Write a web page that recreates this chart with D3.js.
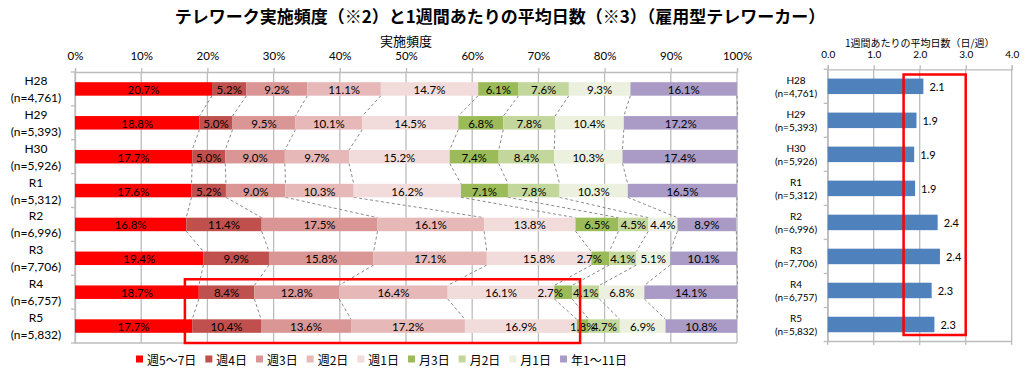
<!DOCTYPE html>
<html>
<head>
<meta charset="utf-8">
<script src="https://cdn.jsdelivr.net/npm/d3@7"></script>
<style>
  body { margin: 0; background: #fff; }
  svg text { font-family: "Lato", "Noto Sans CJK JP", sans-serif; fill: #000; }
  .jp { font-family: "Noto Sans CJK JP", sans-serif; }
</style>
</head>
<body>
<svg width="1024" height="372"></svg>
<script>
// categories (two-line labels)
var years = ["H28", "H29", "H30", "R1", "R2", "R3", "R4", "R5"];
var sizes = ["(n=4,761)", "(n=5,393)", "(n=5,926)", "(n=5,312)", "(n=6,996)", "(n=7,706)", "(n=6,757)", "(n=5,832)"];

var freqNames = ["週5〜7日", "週4日", "週3日", "週2日", "週1日", "月3日", "月2日", "月1日", "年1〜11日"];
var freqColors = ["#ff0000", "#c0504d", "#d99694", "#e6b9b8", "#f2dcdb", "#9bbb59", "#c3d69b", "#ebf1de", "#a99bc6"];

// share of each frequency, one array per year (%)
var h28 = [20.7, 5.2, 9.2, 11.1, 14.7, 6.1, 7.6, 9.3, 16.1];
var h29 = [18.8, 5.0, 9.5, 10.1, 14.5, 6.8, 7.8, 10.4, 17.2];
var h30 = [17.7, 5.0, 9.0, 9.7, 15.2, 7.4, 8.4, 10.3, 17.4];
var r1  = [17.6, 5.2, 9.0, 10.3, 16.2, 7.1, 7.8, 10.3, 16.5];
var r2  = [16.8, 11.4, 17.5, 16.1, 13.8, 6.5, 4.5, 4.4, 8.9];
var r3  = [19.4, 9.9, 15.8, 17.1, 15.8, 2.7, 4.1, 5.1, 10.1];
var r4  = [18.7, 8.4, 12.8, 16.4, 16.1, 2.7, 4.1, 6.8, 14.1];
var r5  = [17.7, 10.4, 13.6, 17.2, 16.9, 1.8, 4.7, 6.9, 10.8];
var shares = [h28, h29, h30, r1, r2, r3, r4, r5];

// average days per week
var avgDays = [2.08, 1.93, 1.88, 1.90, 2.39, 2.44, 2.26, 2.32];

var pctTicks = [0, 10, 20, 30, 40, 50, 60, 70, 80, 90, 100];
var dayTicks = [0, 1, 2, 3, 4];

// a couple of labels Excel pushed sideways
var labelNudge = { "5-5": -11, "6-5": -13 };

var svg = d3.select("svg");
var gridColor = "#bcbcbc";

svg.append("text")
    .attr("class", "jp")
    .attr("x", 500).attr("y", 15)
    .attr("text-anchor", "middle").attr("dominant-baseline", "central")
    .attr("font-size", 17).attr("font-weight", "bold")
    .text("テレワーク実施頻度（※2）と1週間あたりの平均日数（※3）（雇用型テレワーカー）");

// ---------- left: stacked 100% bars ----------
var x = d3.scaleLinear().domain([0, 100]).range([75, 737]);
var y = d3.scaleBand().domain(years).range([72, 343]);
var barH = 13.5;
var off = (y.step() - barH) / 2;

var left = svg.append("g");

left.append("text")
    .attr("class", "jp")
    .attr("x", (x(0) + x(100)) / 2).attr("y", 40)
    .attr("text-anchor", "middle").attr("dominant-baseline", "central")
    .attr("font-size", 13).text("実施頻度");

// gridlines
left.selectAll(".grid").data(pctTicks).enter().append("line")
    .attr("x1", d => x(d)).attr("x2", d => x(d))
    .attr("y1", 72).attr("y2", 343)
    .attr("stroke", gridColor).attr("stroke-width", 1.3);

var xAxis = left.append("g")
    .attr("transform", "translate(0,72)")
    .call(d3.axisTop(x).tickValues(pctTicks).tickFormat(d => d + "%").tickSize(4).tickPadding(8));
xAxis.select(".domain").attr("stroke", gridColor).attr("stroke-width", 1.3);
xAxis.selectAll(".tick line").attr("stroke", gridColor).attr("stroke-width", 1.3);
xAxis.selectAll(".tick text").attr("font-size", 11.5).attr("font-family", null);

left.append("line")
    .attr("x1", x(0)).attr("x2", x(100)).attr("y1", 343).attr("y2", 343)
    .attr("stroke", gridColor).attr("stroke-width", 1.3);

var yAxis = left.append("g")
    .attr("transform", "translate(" + x(0) + ",0)")
    .call(d3.axisLeft(y).tickSize(0).tickFormat(""));
yAxis.select(".domain").attr("stroke", gridColor).attr("stroke-width", 1.3);
left.selectAll(".ytick").data(d3.range(years.length + 1)).enter().append("line")
    .attr("x1", x(0) - 4).attr("x2", x(0))
    .attr("y1", i => 72 + i * y.step()).attr("y2", i => 72 + i * y.step())
    .attr("stroke", gridColor).attr("stroke-width", 1.3);

// category labels
years.forEach(function(c, i) {
  var cy = y(c) + y.step() / 2;
  left.append("text").attr("x", 36).attr("y", cy - 8.5)
      .attr("text-anchor", "middle").attr("dominant-baseline", "central")
      .attr("font-size", 12).text(c);
  left.append("text").attr("x", 36).attr("y", cy + 8.5)
      .attr("text-anchor", "middle").attr("dominant-baseline", "central")
      .attr("font-size", 12).text(sizes[i]);
});

// cumulative boundaries
var cums = shares.map(function(row) {
  var s = 0, out = [0];
  row.forEach(function(v) { s += v; out.push(s); });
  return out;
});

// series lines
var seriesLines = [];
for (var i = 0; i < years.length - 1; i++) {
  for (var k = 1; k <= freqNames.length; k++) {
    seriesLines.push({ a: cums[i][k], b: cums[i + 1][k], y1: y(years[i]) + off + barH, y2: y(years[i + 1]) + off });
  }
}
left.selectAll(".sl").data(seriesLines).enter().append("line")
    .attr("x1", d => x(d.a)).attr("x2", d => x(d.b))
    .attr("y1", d => d.y1).attr("y2", d => d.y2)
    .attr("stroke", "#8a8a8a").attr("stroke-width", 1).attr("stroke-dasharray", "3,2.5");

// segments
var segs = [];
shares.forEach(function(row, i) {
  row.forEach(function(v, k) {
    segs.push({ i: i, k: k, v: v, x0: cums[i][k], x1: cums[i][k + 1] });
  });
});
left.selectAll(".seg").data(segs).enter().append("rect")
    .attr("x", d => x(d.x0)).attr("width", d => x(d.x1) - x(d.x0))
    .attr("y", d => y(years[d.i]) + off).attr("height", barH)
    .attr("fill", d => freqColors[d.k]);

left.selectAll(".lbl").data(segs).enter().append("text")
    .attr("x", d => (x(d.x0) + x(d.x1)) / 2 + (labelNudge[d.i + "-" + d.k] || 0))
    .attr("y", d => y(years[d.i]) + off + barH / 2 + 0.5)
    .attr("text-anchor", "middle").attr("dominant-baseline", "central")
    .attr("font-size", 11.5)
    .text(d => d.v.toFixed(1) + "%");

// highlight box
left.append("rect")
    .attr("x", x(16.6)).attr("y", y("R4") + 4)
    .attr("width", x(76.3) - x(16.6)).attr("height", 343 - (y("R4") + 4))
    .attr("fill", "none").attr("stroke", "#ff0000").attr("stroke-width", 2.5);

// legend
var legend = svg.append("g").attr("transform", "translate(136,359)");
var lx = 0;
freqNames.forEach(function(n, k) {
  legend.append("rect").attr("x", lx).attr("y", -3.5).attr("width", 7).attr("height", 7)
      .attr("fill", freqColors[k]);
  var t = legend.append("text").attr("class", "jp")
      .attr("x", lx + 11).attr("y", 0.5)
      .attr("dominant-baseline", "central").attr("font-size", 12).text(n);
  lx += 11 + t.node().getComputedTextLength() + 9;
});

// ---------- right: average days ----------
var x2 = d3.scaleLinear().domain([0, 4]).range([827.7, 1011.7]);
var y2 = d3.scaleBand().domain(years).range([69.3, 341.5]);
var barH2 = 15.5;
var off2 = (y2.step() - barH2) / 2;
var right = svg.append("g");

right.append("text")
    .attr("class", "jp")
    .attr("x", (x2(0) + x2(4)) / 2).attr("y", 42)
    .attr("text-anchor", "middle").attr("dominant-baseline", "central")
    .attr("font-size", 10).text("1週間あたりの平均日数（日/週）");

right.selectAll(".grid").data(dayTicks).enter().append("line")
    .attr("x1", d => x2(d)).attr("x2", d => x2(d))
    .attr("y1", 69.3).attr("y2", 345)
    .attr("stroke", gridColor).attr("stroke-width", 1.3);

var xAxis2 = right.append("g")
    .attr("transform", "translate(0,69.3)")
    .call(d3.axisTop(x2).tickValues(dayTicks).tickFormat(d3.format(".1f")).tickSize(4).tickPadding(7));
xAxis2.select(".domain").attr("stroke", gridColor).attr("stroke-width", 1.3);
xAxis2.selectAll(".tick line").attr("stroke", gridColor).attr("stroke-width", 1.3);
xAxis2.selectAll(".tick text").attr("font-size", 10).attr("font-family", null);

right.append("line")
    .attr("x1", x2(0)).attr("x2", x2(4)).attr("y1", 341.5).attr("y2", 341.5)
    .attr("stroke", gridColor).attr("stroke-width", 1.3);

var yAxis2 = right.append("g")
    .attr("transform", "translate(" + x2(0) + ",0)")
    .call(d3.axisLeft(y2).tickSize(0).tickFormat(""));
yAxis2.select(".domain").attr("stroke", gridColor).attr("stroke-width", 1.3);
right.selectAll(".ytick").data(d3.range(years.length + 1)).enter().append("line")
    .attr("x1", x2(0) - 4).attr("x2", x2(0))
    .attr("y1", i => 69.3 + i * y2.step()).attr("y2", i => 69.3 + i * y2.step())
    .attr("stroke", gridColor).attr("stroke-width", 1.3);

years.forEach(function(c, i) {
  var cy = y2(c) + y2.step() / 2;
  right.append("text").attr("x", 796).attr("y", cy - 6.5)
      .attr("text-anchor", "middle").attr("dominant-baseline", "central")
      .attr("font-size", 10).text(c);
  right.append("text").attr("x", 796).attr("y", cy + 6.5)
      .attr("text-anchor", "middle").attr("dominant-baseline", "central")
      .attr("font-size", 10).text(sizes[i]);
});

right.selectAll(".bar").data(avgDays).enter().append("rect")
    .attr("x", x2(0)).attr("width", d => x2(d) - x2(0))
    .attr("y", (d, i) => y2(years[i]) + off2).attr("height", barH2)
    .attr("fill", "#4f81bd");

right.selectAll(".val").data(avgDays).enter().append("text")
    .attr("x", d => x2(d) + 6)
    .attr("y", (d, i) => y2(years[i]) + off2 + barH2 / 2)
    .attr("dominant-baseline", "central").attr("font-size", 11)
    .text(d => d.toFixed(1));

right.append("rect")
    .attr("x", x2(1.65)).attr("y", 74.5)
    .attr("width", x2(3) - x2(1.65)).attr("height", 335 - 74.5)
    .attr("fill", "none").attr("stroke", "#ff0000").attr("stroke-width", 2.5);
</script>
</body>
</html>
